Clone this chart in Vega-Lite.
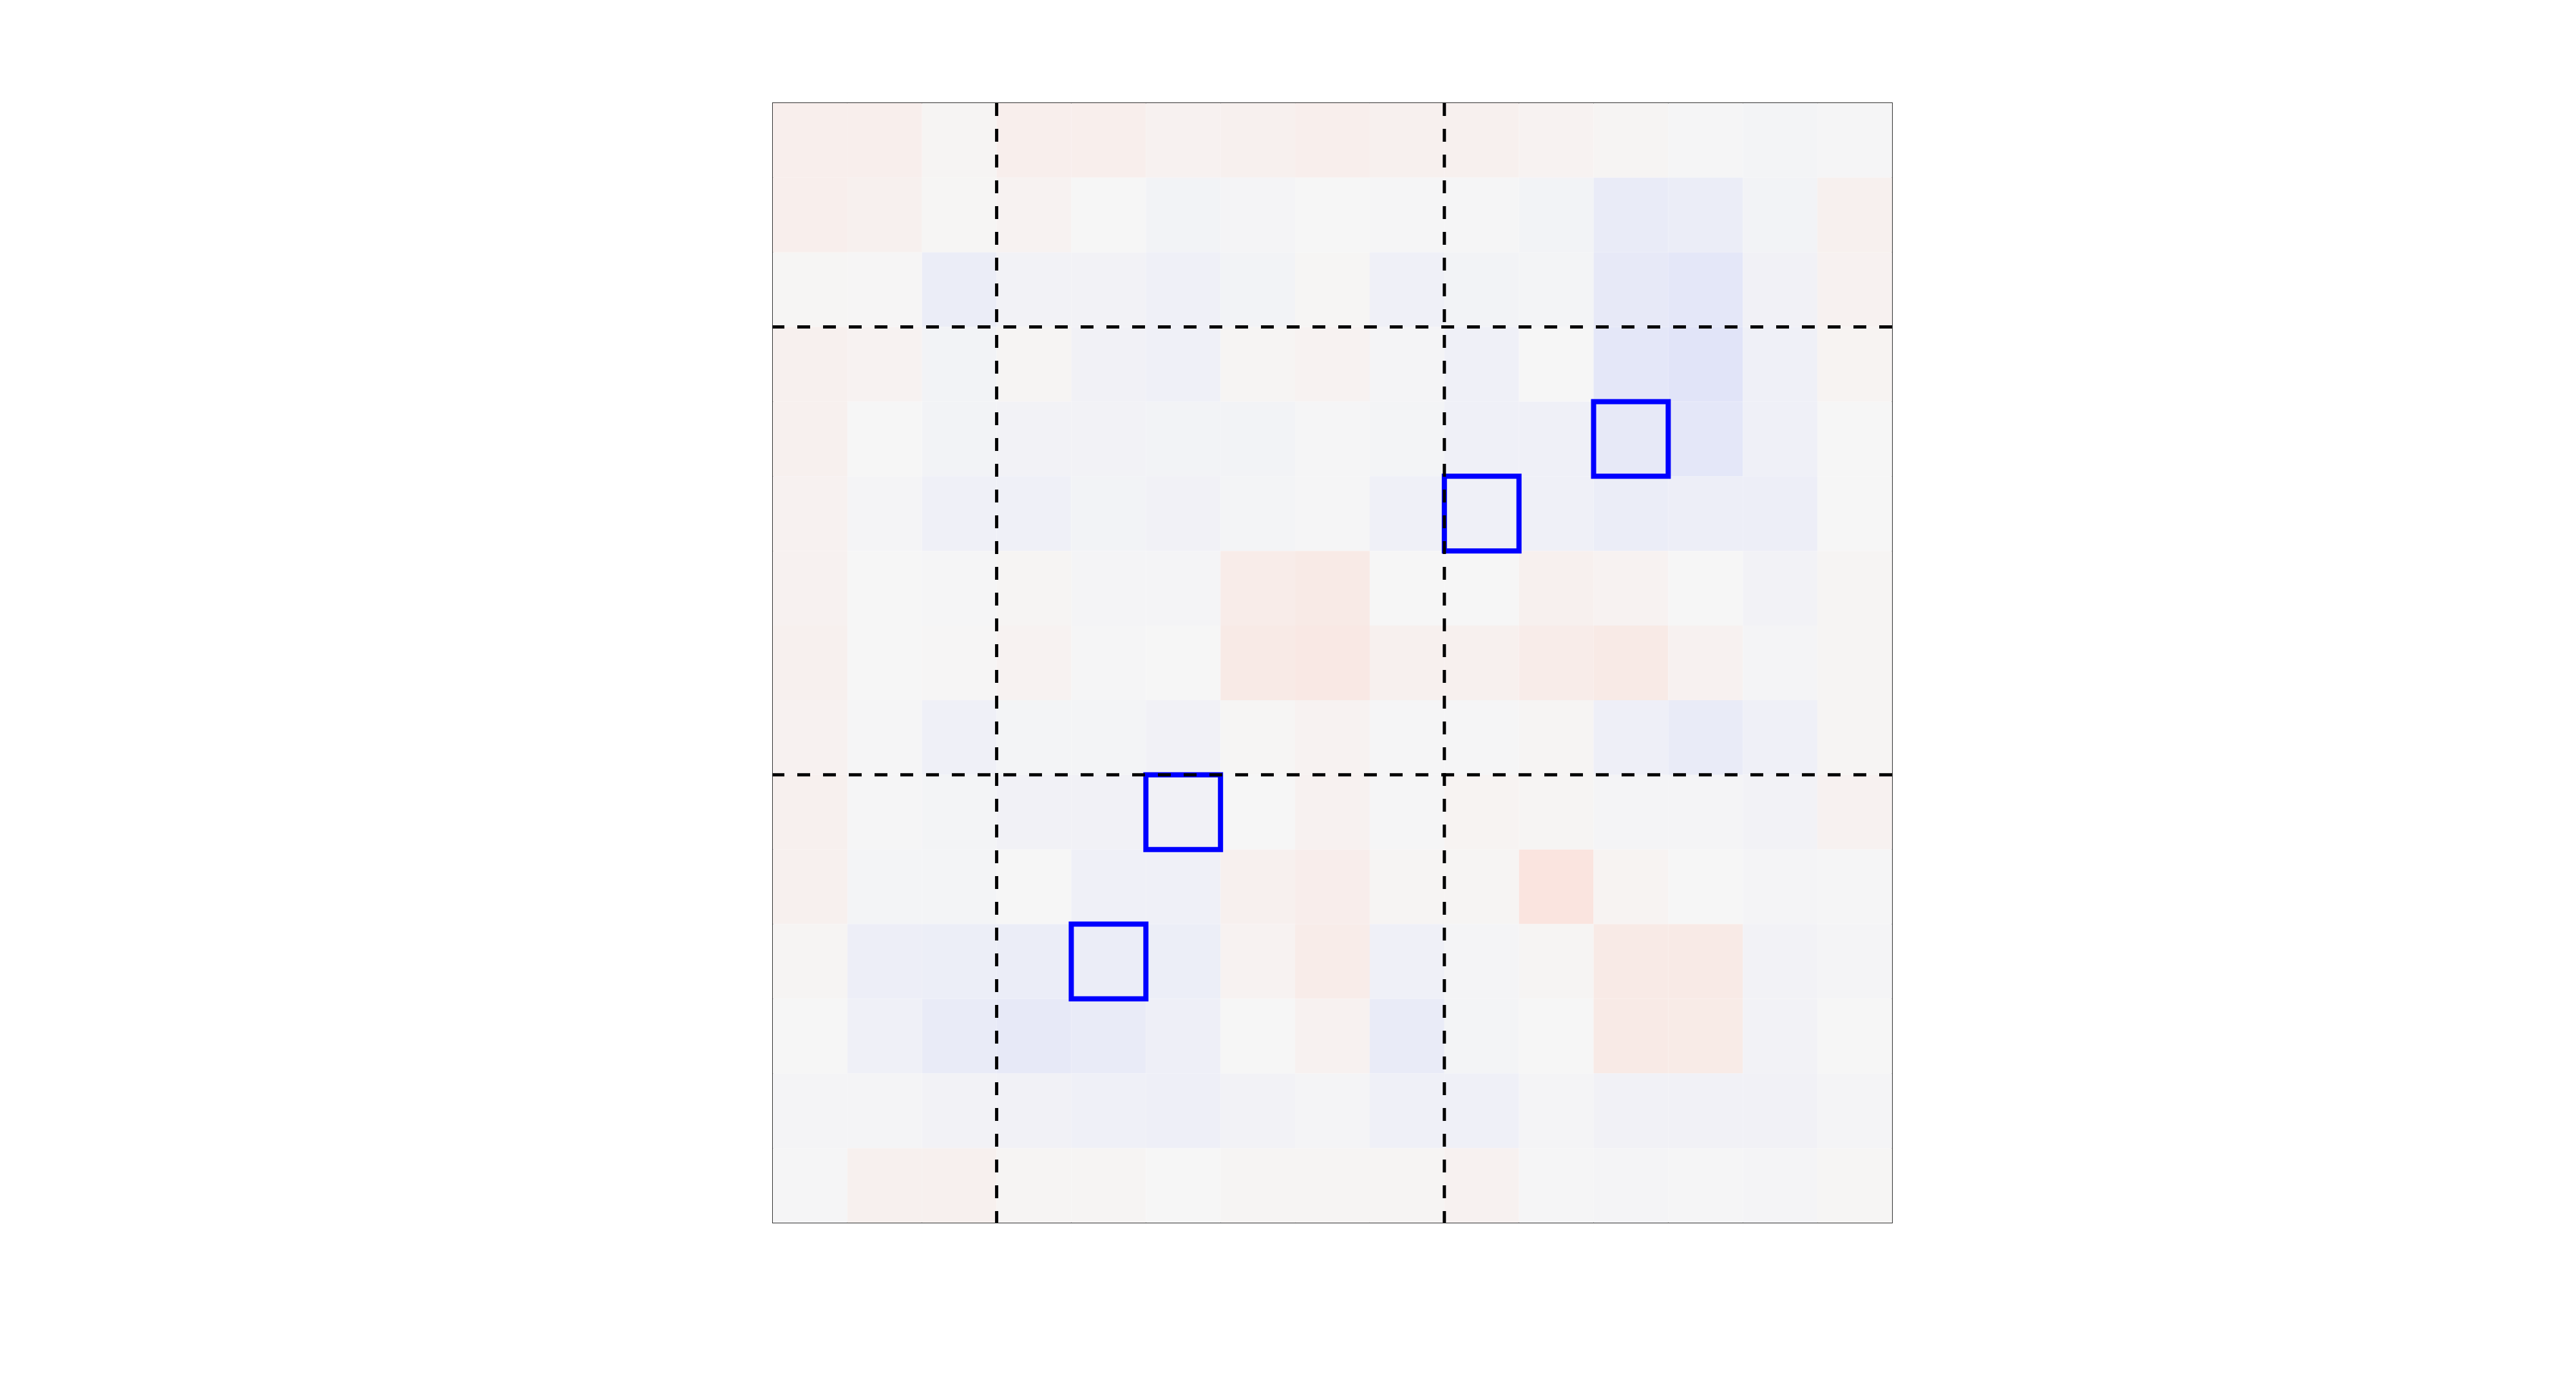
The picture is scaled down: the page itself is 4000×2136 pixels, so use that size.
{
"$schema": "https://vega.github.io/schema/vega-lite/v6.json",
"width": 1738, "height": 1738,
"autosize": {"type": "none"},
"padding": {"left": 1200, "top": 160, "right": 20, "bottom": 20},
"background": "white",
"config": {"view": {"stroke": "#333333", "strokeWidth": 2}},
"datasets": {
"cells": [
{"r":0,"c":0,"v":0.2},{"r":0,"c":1,"v":0.2},{"r":0,"c":2,"v":0.05},{"r":0,"c":3,"v":0.2},{"r":0,"c":4,"v":0.2},{"r":0,"c":5,"v":0.12},{"r":0,"c":6,"v":0.15},{"r":0,"c":7,"v":0.2},{"r":0,"c":8,"v":0.15},{"r":0,"c":9,"v":0.15},{"r":0,"c":10,"v":0.1},{"r":0,"c":11,"v":0.05},{"r":0,"c":12,"v":-0.03},{"r":0,"c":13,"v":-0.06},{"r":0,"c":14,"v":-0.03},
{"r":1,"c":0,"v":0.2},{"r":1,"c":1,"v":0.15},{"r":1,"c":2,"v":0.03},{"r":1,"c":3,"v":0.1},{"r":1,"c":4,"v":0.0},{"r":1,"c":5,"v":-0.08},{"r":1,"c":6,"v":-0.05},{"r":1,"c":7,"v":0.0},{"r":1,"c":8,"v":-0.03},{"r":1,"c":9,"v":-0.03},{"r":1,"c":10,"v":-0.08},{"r":1,"c":11,"v":-0.3},{"r":1,"c":12,"v":-0.25},{"r":1,"c":13,"v":-0.08},{"r":1,"c":14,"v":0.15},
{"r":2,"c":0,"v":0.03},{"r":2,"c":1,"v":0.02},{"r":2,"c":2,"v":-0.25},{"r":2,"c":3,"v":-0.1},{"r":2,"c":4,"v":-0.1},{"r":2,"c":5,"v":-0.15},{"r":2,"c":6,"v":-0.08},{"r":2,"c":7,"v":0.03},{"r":2,"c":8,"v":-0.15},{"r":2,"c":9,"v":-0.08},{"r":2,"c":10,"v":-0.06},{"r":2,"c":11,"v":-0.35},{"r":2,"c":12,"v":-0.4},{"r":2,"c":13,"v":-0.12},{"r":2,"c":14,"v":0.12},
{"r":3,"c":0,"v":0.15},{"r":3,"c":1,"v":0.1},{"r":3,"c":2,"v":-0.08},{"r":3,"c":3,"v":0.05},{"r":3,"c":4,"v":-0.12},{"r":3,"c":5,"v":-0.15},{"r":3,"c":6,"v":0.05},{"r":3,"c":7,"v":0.1},{"r":3,"c":8,"v":-0.05},{"r":3,"c":9,"v":-0.15},{"r":3,"c":10,"v":0.0},{"r":3,"c":11,"v":-0.4},{"r":3,"c":12,"v":-0.48},{"r":3,"c":13,"v":-0.15},{"r":3,"c":14,"v":0.07},
{"r":4,"c":0,"v":0.15},{"r":4,"c":1,"v":0.0},{"r":4,"c":2,"v":-0.08},{"r":4,"c":3,"v":-0.1},{"r":4,"c":4,"v":-0.1},{"r":4,"c":5,"v":-0.08},{"r":4,"c":6,"v":-0.08},{"r":4,"c":7,"v":-0.03},{"r":4,"c":8,"v":-0.06},{"r":4,"c":9,"v":-0.15},{"r":4,"c":10,"v":-0.15},{"r":4,"c":11,"v":-0.35},{"r":4,"c":12,"v":-0.4},{"r":4,"c":13,"v":-0.15},{"r":4,"c":14,"v":0.0},
{"r":5,"c":0,"v":0.12},{"r":5,"c":1,"v":-0.05},{"r":5,"c":2,"v":-0.15},{"r":5,"c":3,"v":-0.15},{"r":5,"c":4,"v":-0.08},{"r":5,"c":5,"v":-0.12},{"r":5,"c":6,"v":-0.06},{"r":5,"c":7,"v":-0.02},{"r":5,"c":8,"v":-0.15},{"r":5,"c":9,"v":-0.15},{"r":5,"c":10,"v":-0.15},{"r":5,"c":11,"v":-0.25},{"r":5,"c":12,"v":-0.2},{"r":5,"c":13,"v":-0.2},{"r":5,"c":14,"v":0.0},
{"r":6,"c":0,"v":0.12},{"r":6,"c":1,"v":0.0},{"r":6,"c":2,"v":-0.03},{"r":6,"c":3,"v":0.05},{"r":6,"c":4,"v":-0.05},{"r":6,"c":5,"v":-0.04},{"r":6,"c":6,"v":0.25},{"r":6,"c":7,"v":0.3},{"r":6,"c":8,"v":0.0},{"r":6,"c":9,"v":0.0},{"r":6,"c":10,"v":0.15},{"r":6,"c":11,"v":0.1},{"r":6,"c":12,"v":0.0},{"r":6,"c":13,"v":-0.1},{"r":6,"c":14,"v":0.05},
{"r":7,"c":0,"v":0.15},{"r":7,"c":1,"v":0.0},{"r":7,"c":2,"v":0.02},{"r":7,"c":3,"v":0.1},{"r":7,"c":4,"v":-0.03},{"r":7,"c":5,"v":0.0},{"r":7,"c":6,"v":0.3},{"r":7,"c":7,"v":0.35},{"r":7,"c":8,"v":0.15},{"r":7,"c":9,"v":0.15},{"r":7,"c":10,"v":0.25},{"r":7,"c":11,"v":0.3},{"r":7,"c":12,"v":0.12},{"r":7,"c":13,"v":-0.04},{"r":7,"c":14,"v":0.05},
{"r":8,"c":0,"v":0.12},{"r":8,"c":1,"v":-0.03},{"r":8,"c":2,"v":-0.15},{"r":8,"c":3,"v":-0.06},{"r":8,"c":4,"v":-0.06},{"r":8,"c":5,"v":-0.12},{"r":8,"c":6,"v":0.03},{"r":8,"c":7,"v":0.1},{"r":8,"c":8,"v":-0.03},{"r":8,"c":9,"v":-0.03},{"r":8,"c":10,"v":0.05},{"r":8,"c":11,"v":-0.18},{"r":8,"c":12,"v":-0.3},{"r":8,"c":13,"v":-0.15},{"r":8,"c":14,"v":0.05},
{"r":9,"c":0,"v":0.15},{"r":9,"c":1,"v":-0.03},{"r":9,"c":2,"v":-0.06},{"r":9,"c":3,"v":-0.12},{"r":9,"c":4,"v":-0.12},{"r":9,"c":5,"v":-0.12},{"r":9,"c":6,"v":0.0},{"r":9,"c":7,"v":0.12},{"r":9,"c":8,"v":-0.03},{"r":9,"c":9,"v":0.07},{"r":9,"c":10,"v":0.05},{"r":9,"c":11,"v":-0.04},{"r":9,"c":12,"v":-0.04},{"r":9,"c":13,"v":-0.1},{"r":9,"c":14,"v":0.12},
{"r":10,"c":0,"v":0.15},{"r":10,"c":1,"v":-0.06},{"r":10,"c":2,"v":-0.06},{"r":10,"c":3,"v":0.0},{"r":10,"c":4,"v":-0.15},{"r":10,"c":5,"v":-0.15},{"r":10,"c":6,"v":0.15},{"r":10,"c":7,"v":0.22},{"r":10,"c":8,"v":0.05},{"r":10,"c":9,"v":0.05},{"r":10,"c":10,"v":0.45},{"r":10,"c":11,"v":0.07},{"r":10,"c":12,"v":0.0},{"r":10,"c":13,"v":-0.05},{"r":10,"c":14,"v":-0.02},
{"r":11,"c":0,"v":0.06},{"r":11,"c":1,"v":-0.2},{"r":11,"c":2,"v":-0.22},{"r":11,"c":3,"v":-0.25},{"r":11,"c":4,"v":-0.25},{"r":11,"c":5,"v":-0.22},{"r":11,"c":6,"v":0.1},{"r":11,"c":7,"v":0.25},{"r":11,"c":8,"v":-0.15},{"r":11,"c":9,"v":-0.05},{"r":11,"c":10,"v":0.05},{"r":11,"c":11,"v":0.3},{"r":11,"c":12,"v":0.3},{"r":11,"c":13,"v":-0.1},{"r":11,"c":14,"v":-0.05},
{"r":12,"c":0,"v":0.0},{"r":12,"c":1,"v":-0.15},{"r":12,"c":2,"v":-0.3},{"r":12,"c":3,"v":-0.35},{"r":12,"c":4,"v":-0.3},{"r":12,"c":5,"v":-0.18},{"r":12,"c":6,"v":0.0},{"r":12,"c":7,"v":0.12},{"r":12,"c":8,"v":-0.3},{"r":12,"c":9,"v":-0.06},{"r":12,"c":10,"v":0.0},{"r":12,"c":11,"v":0.3},{"r":12,"c":12,"v":0.28},{"r":12,"c":13,"v":-0.1},{"r":12,"c":14,"v":0.0},
{"r":13,"c":0,"v":-0.05},{"r":13,"c":1,"v":-0.05},{"r":13,"c":2,"v":-0.1},{"r":13,"c":3,"v":-0.12},{"r":13,"c":4,"v":-0.15},{"r":13,"c":5,"v":-0.18},{"r":13,"c":6,"v":-0.1},{"r":13,"c":7,"v":-0.05},{"r":13,"c":8,"v":-0.15},{"r":13,"c":9,"v":-0.15},{"r":13,"c":10,"v":-0.05},{"r":13,"c":11,"v":-0.12},{"r":13,"c":12,"v":-0.12},{"r":13,"c":13,"v":-0.12},{"r":13,"c":14,"v":-0.04},
{"r":14,"c":0,"v":-0.02},{"r":14,"c":1,"v":0.15},{"r":14,"c":2,"v":0.15},{"r":14,"c":3,"v":0.05},{"r":14,"c":4,"v":0.05},{"r":14,"c":5,"v":0.0},{"r":14,"c":6,"v":0.05},{"r":14,"c":7,"v":0.05},{"r":14,"c":8,"v":0.05},{"r":14,"c":9,"v":0.12},{"r":14,"c":10,"v":-0.02},{"r":14,"c":11,"v":-0.05},{"r":14,"c":12,"v":-0.02},{"r":14,"c":13,"v":-0.05},{"r":14,"c":14,"v":0.03}
],
"boxes": [{"r":4,"c":11},{"r":5,"c":9},{"r":9,"c":5},{"r":11,"c":4}],
"divs": [{"p":3},{"p":9}]
},
"resolve": {"scale": {"x": "independent", "y": "independent", "color": "independent"}},
"layer": [
{
"data": {"name": "cells"},
"mark": {"type": "rect", "strokeWidth": 0},
"encoding": {
"x": {"field": "c", "type": "ordinal", "scale": {"domain": [0,1,2,3,4,5,6,7,8,9,10,11,12,13,14], "paddingInner": 0, "paddingOuter": 0}, "axis": null},
"y": {"field": "r", "type": "ordinal", "scale": {"domain": [0,1,2,3,4,5,6,7,8,9,10,11,12,13,14], "paddingInner": 0, "paddingOuter": 0}, "axis": null},
"color": {"field": "v", "type": "quantitative", "scale": {"domain": [-0.5, 0, 0.5], "range": ["#e0e3f8", "#f6f6f6", "#fae2dc"], "interpolate": "rgb", "clamp": true}, "legend": null}
}
},
{
"data": {"name": "boxes"},
"mark": {"type": "rect", "filled": false, "stroke": "#0000ff", "strokeWidth": 8},
"encoding": {
"x": {"field": "c", "type": "ordinal", "scale": {"domain": [0,1,2,3,4,5,6,7,8,9,10,11,12,13,14], "paddingInner": 0, "paddingOuter": 0}, "axis": null},
"y": {"field": "r", "type": "ordinal", "scale": {"domain": [0,1,2,3,4,5,6,7,8,9,10,11,12,13,14], "paddingInner": 0, "paddingOuter": 0}, "axis": null}
}
},
{
"data": {"name": "divs"},
"mark": {"type": "rule", "color": "#000000", "strokeWidth": 5, "strokeDash": [20, 20]},
"encoding": {
"x": {"field": "p", "type": "quantitative", "scale": {"domain": [0, 15], "nice": false, "zero": false}, "axis": null}
}
},
{
"data": {"name": "divs"},
"mark": {"type": "rule", "color": "#000000", "strokeWidth": 5, "strokeDash": [20, 20]},
"encoding": {
"y": {"field": "p", "type": "quantitative", "scale": {"domain": [0, 15], "nice": false, "zero": false, "reverse": true}, "axis": null}
}
}
]
}
